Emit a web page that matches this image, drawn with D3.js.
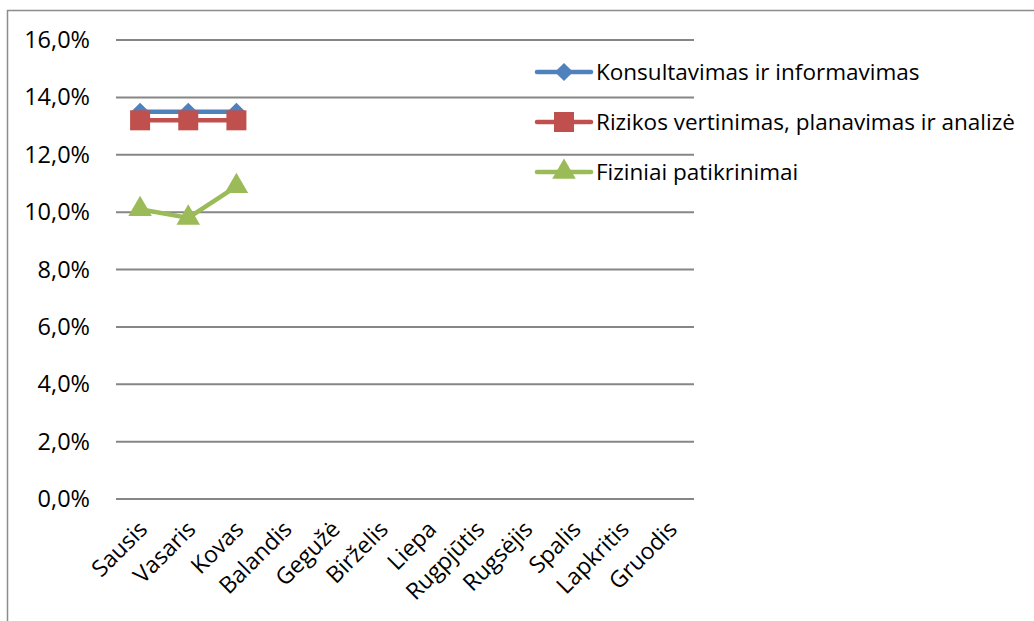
<!DOCTYPE html>
<html>
<head>
<meta charset="utf-8">
<script src="https://cdn.jsdelivr.net/npm/d3@7"></script>
<style>
  body { margin: 0; background: #fff; }
  svg text { font-family: "Open Sans", sans-serif; fill: #000; }
</style>
</head>
<body>
<div id="chart"></div>
<script>
// months on the x axis
var months = ["Sausis", "Vasaris", "Kovas", "Balandis", "Gegužė", "Birželis",
              "Liepa", "Rugpjūtis", "Rugsėjis", "Spalis", "Lapkritis", "Gruodis"];
var seriesNames = ["Konsultavimas ir informavimas",
                   "Rizikos vertinimas, planavimas ir analizė",
                   "Fiziniai patikrinimai"];
var konsultavimas = [13.5, 13.5, 13.5];
var rizikos = [13.2, 13.2, 13.2];
var fiziniai = [10.1, 9.8, 10.9];
var yTicks = [0, 2, 4, 6, 8, 10, 12, 14, 16];

var colors = ["#4F81BD", "#C0504D", "#9BBB59"];
// diamond = square turned 45deg
var shapes = [d3.symbolSquare, d3.symbolSquare, d3.symbolTriangle];
var sizes = [165, 400, 240];
var rotations = [45, 0, 0];
var allData = [konsultavimas, rizikos, fiziniai];

var W = 1034, H = 621;
var margin = {top: 40, left: 116, right: 340, bottom: 122};
var width = W - margin.left - margin.right,
    height = H - margin.top - margin.bottom;

var svg = d3.select("#chart").append("svg")
    .attr("width", W).attr("height", H);

// outer frame (only top and left visible)
svg.append("path")
    .attr("d", "M7.5,621 L7.5,10.5 L1034,10.5")
    .attr("fill", "none").attr("stroke", "#8c8c8c").attr("stroke-width", 1.5);

var g = svg.append("g")
    .attr("transform", "translate(" + margin.left + "," + margin.top + ")");

var x = d3.scaleBand().domain(months).range([0, width]);
var y = d3.scaleLinear().domain([0, 16]).range([height, 0]);

// gridlines
g.append("g")
    .selectAll("line")
    .data(yTicks)
    .enter().append("line")
    .attr("x1", 0).attr("x2", width)
    .attr("y1", function(d) { return y(d); })
    .attr("y2", function(d) { return y(d); })
    .attr("stroke", "#868686").attr("stroke-width", 2);

// y labels
var yAxis = g.append("g")
    .call(d3.axisLeft(y).tickValues(yTicks).tickSize(0).tickPadding(26)
        .tickFormat(function(d) { return d3.format(".1f")(d).replace(".", ",") + "%"; }));
yAxis.select(".domain").remove();
yAxis.selectAll("text").style("font-size", "23.5px").style("font-family", "Open Sans");

// x labels
var xAxis = g.append("g")
    .attr("transform", "translate(0," + height + ")")
    .call(d3.axisBottom(x).tickSize(0));
xAxis.select(".domain").remove();
xAxis.selectAll("text")
    .style("font-size", "23px").style("font-family", "Open Sans")
    .attr("text-anchor", "end")
    .attr("y", 0)
    .attr("dy", "0.35em")
    .attr("transform", "translate(3,26) rotate(-45)");

// lines + markers
var line = d3.line()
    .x(function(d, i) { return x(months[i]) + x.bandwidth() / 2; })
    .y(function(d) { return y(d); });

allData.forEach(function(vals, k) {
    g.append("path")
        .datum(vals)
        .attr("d", line)
        .attr("fill", "none")
        .attr("stroke", colors[k])
        .attr("stroke-width", 4.5)
        .attr("stroke-linejoin", "round");
    g.selectAll(".m" + k)
        .data(vals)
        .enter().append("path")
        .attr("class", "m" + k)
        .attr("transform", function(d, i) {
            return "translate(" + (x(months[i]) + x.bandwidth() / 2) + "," + y(d) + ") rotate(" + rotations[k] + ")";
        })
        .attr("d", d3.symbol().type(shapes[k]).size(sizes[k]))
        .attr("fill", colors[k]);
});

// legend
var legend = svg.selectAll(".legend")
    .data(seriesNames)
    .enter().append("g")
    .attr("class", "legend")
    .attr("transform", function(d, i) { return "translate(537," + (72 + i * 50) + ")"; });

legend.append("line")
    .attr("x1", 0).attr("x2", 54)
    .attr("stroke", function(d, i) { return colors[i]; })
    .attr("stroke-width", 4.5)
    .attr("stroke-linecap", "round");
legend.append("path")
    .attr("transform", function(d, i) { return "translate(27,0) rotate(" + rotations[i] + ")"; })
    .attr("d", function(d, i) { return d3.symbol().type(shapes[i]).size(sizes[i])(); })
    .attr("fill", function(d, i) { return colors[i]; });
legend.append("text")
    .attr("x", 59)
    .attr("dy", ".35em")
    .style("font-size", "22.5px")
    .text(function(d) { return d; });
</script>
</body>
</html>
